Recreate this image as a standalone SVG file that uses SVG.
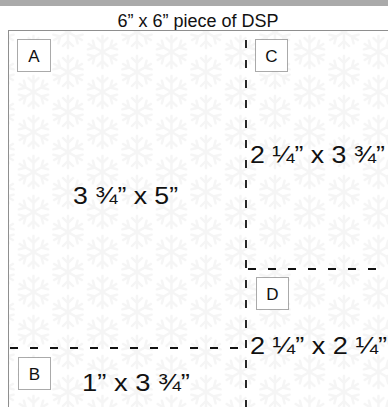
<svg xmlns="http://www.w3.org/2000/svg" xmlns:xlink="http://www.w3.org/1999/xlink" width="388" height="407" viewBox="0 0 388 407">
<style>
.lbl{font-family:"Liberation Sans",Arial,Helvetica,sans-serif;fill:#111;}
.title{font-size:18px;text-anchor:middle;}
.big{font-size:23px;}
.tag{font-size:17px;text-anchor:middle;}
.box{fill:#fff;stroke:#555;stroke-width:1;stroke-dasharray:1 1;}
.cut{stroke:#111;stroke-width:1.8;fill:none;stroke-dasharray:8 12;}
</style>
<defs>
<g id="arm"><path d="M0,0V-16M0,-9L-5,-14M0,-9L5,-14" stroke="#f5f5f5" stroke-width="2.4" stroke-linecap="round" fill="none"/></g>
<g id="flake">
<use xlink:href="#arm"/>
<use xlink:href="#arm" transform="rotate(60)"/>
<use xlink:href="#arm" transform="rotate(120)"/>
<use xlink:href="#arm" transform="rotate(180)"/>
<use xlink:href="#arm" transform="rotate(240)"/>
<use xlink:href="#arm" transform="rotate(300)"/>
</g>
<pattern id="flakes" patternUnits="userSpaceOnUse" x="68" y="112" width="69" height="40">
<rect width="69" height="40" fill="#fff"/>
<use xlink:href="#flake" x="0" y="0"/>
<use xlink:href="#flake" x="69" y="0"/>
<use xlink:href="#flake" x="0" y="40"/>
<use xlink:href="#flake" x="69" y="40"/>
<use xlink:href="#flake" x="34.5" y="20"/>
</pattern>
</defs>
<rect x="0" y="0" width="388" height="407" fill="#fff"/>
<rect x="0" y="0" width="388" height="6" fill="#aaaaaa"/>
<g id="title"><text class="lbl title" x="198" y="27">6” x 6” piece of DSP</text></g>
<g id="paper"><rect x="8.5" y="30.5" width="400" height="400" fill="url(#flakes)" stroke="#8f8f8f" stroke-width="1"/></g>
<g id="connectors">
<path class="cut" d="M246,40V407"/>
<path class="cut" d="M10,348H246"/>
<path class="cut" d="M248,269H388"/>
</g>
<g id="piece-A">
<rect class="box" x="17.5" y="39.5" width="33" height="32"/>
<text class="lbl tag" x="34" y="62">A</text>
<text class="lbl big" x="73" y="204" textLength="105" lengthAdjust="spacingAndGlyphs">3 ¾” x 5”</text>
</g>
<g id="piece-B">
<rect class="box" x="18.5" y="357.5" width="32" height="32"/>
<text class="lbl tag" x="34.5" y="380">B</text>
<text class="lbl big" x="82" y="391" textLength="108" lengthAdjust="spacingAndGlyphs">1” x 3 ¾”</text>
</g>
<g id="piece-C">
<rect class="box" x="255.5" y="39.5" width="32" height="32"/>
<text class="lbl tag" x="271.5" y="62">C</text>
<text class="lbl big" x="250" y="163" textLength="135" lengthAdjust="spacingAndGlyphs">2 ¼” x 3 ¾”</text>
</g>
<g id="piece-D">
<rect class="box" x="256.5" y="277.5" width="32" height="32"/>
<text class="lbl tag" x="272.5" y="300">D</text>
<text class="lbl big" x="250" y="354" textLength="137" lengthAdjust="spacingAndGlyphs">2 ¼” x 2 ¼”</text>
</g>
</svg>
